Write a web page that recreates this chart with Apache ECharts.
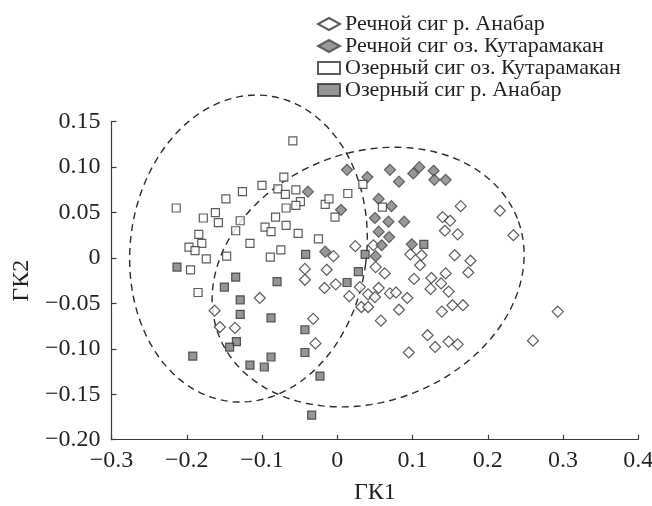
<!DOCTYPE html>
<html>
<head>
<meta charset="utf-8">
<script src="https://cdn.jsdelivr.net/npm/echarts@6/dist/echarts.min.js"></script>
<style>
  html, body { margin: 0; padding: 0; background: #fff; }
  #chart { width: 652px; height: 506px; }
</style>
</head>
<body>
<div id="chart"></div>
<script>
// ГК1 / ГК2 scores
const seriesNames = [
  "Речной сиг р. Анабар",
  "Речной сиг оз. Кутарамакан",
  "Озерный сиг оз. Кутарамакан",
  "Озерный сиг р. Анабар"
];

const riverAnabar = [
  [-0.103,-0.044],[-0.163,-0.058],[-0.156,-0.076],[-0.136,-0.077],[0.024,0.013],[0.048,0.014],
  [-0.005,0.002],[0.140,0.045],[0.150,0.041],[0.143,0.030],[0.160,0.026],[0.164,0.057],
  [0.216,0.052],[0.234,0.025],[0.156,0.003],[0.177,-0.003],[0.174,-0.016],[0.144,-0.017],
  [0.138,-0.028],[0.148,-0.037],[0.153,-0.052],[0.167,-0.052],[0.139,-0.059],[0.293,-0.059],
  [0.260,-0.091],[0.148,-0.092],[0.160,-0.095],[0.097,0.004],[0.112,0.003],[0.110,-0.008],
  [-0.043,-0.012],[-0.043,-0.024],[-0.014,-0.013],[-0.017,-0.033],[-0.002,-0.029],[0.016,-0.042],
  [0.030,-0.032],[0.041,-0.040],[0.032,-0.054],[0.041,-0.054],[0.050,-0.043],[0.055,-0.033],
  [0.063,-0.017],[0.051,-0.010],[0.070,-0.039],[0.078,-0.038],[0.093,-0.044],[0.082,-0.057],
  [0.058,-0.069],[0.102,-0.023],[0.125,-0.022],[0.124,-0.034],[-0.032,-0.067],[-0.029,-0.094],
  [0.120,-0.085],[0.130,-0.098],[0.095,-0.104]
];

const riverKutaramakan = [
  [0.013,0.097],[0.040,0.089],[0.070,0.097],[0.082,0.084],[0.101,0.093],[0.109,0.100],
  [0.128,0.096],[0.129,0.086],[0.144,0.086],[-0.039,0.073],[0.005,0.053],[0.055,0.065],
  [0.072,0.057],[0.050,0.044],[0.068,0.040],[0.089,0.040],[0.055,0.029],[0.069,0.023],
  [0.059,0.014],[0.099,0.015],[-0.016,0.007],[0.051,0.002]
];

const lakeKutaramakan = [
  [-0.214,0.055],[-0.178,0.044],[-0.162,0.050],[-0.158,0.039],[-0.148,0.065],[-0.126,0.073],
  [-0.100,0.080],[-0.079,0.076],[-0.129,0.041],[-0.135,0.030],[-0.184,0.026],[-0.180,0.016],
  [-0.197,0.012],[-0.189,0.008],[-0.116,0.016],[-0.096,0.034],[-0.088,0.029],[-0.082,0.045],
  [-0.174,-0.001],[-0.147,0.002],[-0.089,0.001],[-0.075,0.009],[-0.195,-0.013],[-0.185,-0.038],
  [-0.059,0.129],[-0.071,0.089],[0.034,0.081],[0.014,0.071],[-0.069,0.070],[-0.055,0.075],
  [-0.049,0.062],[-0.055,0.058],[-0.068,0.055],[-0.016,0.059],[-0.011,0.065],[-0.003,0.045],
  [-0.068,0.036],[-0.052,0.027],[-0.025,0.021],[0.060,0.056]
];

const lakeAnabar = [
  [-0.213,-0.010],[-0.135,-0.021],[-0.150,-0.032],[-0.129,-0.046],[-0.129,-0.062],[-0.088,-0.066],
  [-0.080,-0.026],[-0.134,-0.092],[-0.143,-0.098],[-0.192,-0.108],[-0.116,-0.118],[-0.088,-0.109],
  [-0.097,-0.120],[0.115,0.015],[-0.042,0.004],[0.037,0.004],[0.028,-0.015],[0.013,-0.027],
  [-0.043,-0.079],[-0.043,-0.104],[-0.023,-0.130],[-0.034,-0.173]
];

// dashed ellipses: centre x, centre y, half-width, half-height (data units), tilt in degrees
const ellipses = [
  [-0.118, 0.0104, 0.157, 0.1695, -7.4],
  [0.041, -0.021, 0.213, 0.137, 21.4]
];

const xTickLabels = ["−0.3", "−0.2", "−0.1", "0", "0.1", "0.2", "0.3", "0.4"];
const yTickLabels = ["−0.20", "−0.15", "−0.10", "−0.05", "0", "0.05", "0.10", "0.15"];

const xMin = -0.3, xMax = 0.4, xStep = 0.1;
const yMin = -0.2, yMax = 0.15, yStep = 0.05;

const font = "Liberation Serif";
const ink = "#231f20";

const chart = echarts.init(document.getElementById("chart"), null, { renderer: "canvas" });

function ellipseItem(params, api) {
  const c = api.coord([api.value(0), api.value(1)]);
  const r = api.size([api.value(2), api.value(3)]);
  const a = api.value(4) * Math.PI / 180;
  const pts = [];
  for (let i = 0; i <= 180; i++) {
    const t = i / 180 * Math.PI * 2;
    const ux = r[0] * Math.cos(t), uy = r[1] * Math.sin(t);
    pts.push([c[0] + ux * Math.cos(a) - uy * Math.sin(a),
              c[1] - (ux * Math.sin(a) + uy * Math.cos(a))]);
  }
  return {
    type: "polyline",
    shape: { points: pts },
    style: { fill: null, stroke: "#2b2b2b", lineWidth: 1.4, lineDash: [7, 5] }
  };
}

const markerStyles = [
  { symbol: "diamond", symbolSize: 11, itemStyle: { color: "#fff", borderColor: "#333", borderWidth: 1.2 } },
  { symbol: "diamond", symbolSize: 11, itemStyle: { color: "#808080", borderColor: "#444", borderWidth: 1.2 } },
  { symbol: "rect", symbolSize: 8, itemStyle: { color: "#fff", borderColor: "#333", borderWidth: 1.2 } },
  { symbol: "rect", symbolSize: 8, itemStyle: { color: "#7a7a7a", borderColor: "#333", borderWidth: 1.2 } }
];

const groups = [riverAnabar, riverKutaramakan, lakeKutaramakan, lakeAnabar];

let series = [{
  type: "custom",
  renderItem: ellipseItem,
  data: ellipses,
  encode: { x: 0, y: 1 },
  silent: true,
  z: 1
}];

series = series.concat(groups.map((g, idx) => ({
  name: seriesNames[idx],
  type: "scatter",
  data: g,
  z: 2,
  ...markerStyles[idx]
})));

const option = {
  animation: false,
  backgroundColor: "#fff",
  grid: { left: 111.5, right: 13.7, top: 121.7, bottom: 66.3, containLabel: false, outerBoundsMode: "none" },
  legend: {
    orient: "vertical",
    left: 317,
    top: 13,
    padding: 0,
    itemWidth: 22,
    itemHeight: 12,
    itemGap: 0,
    data: seriesNames,
    textStyle: { fontFamily: font, fontSize: 22, lineHeight: 22, color: ink }
  },
  xAxis: {
    type: "value",
    min: xMin, max: xMax, interval: xStep,
    name: "ГК1",
    nameLocation: "middle",
    nameGap: 41,
    nameTextStyle: { fontFamily: font, fontSize: 24, color: ink },
    splitLine: { show: false },
    axisLine: { onZero: false, lineStyle: { color: "#3a3a3a", width: 1.2 } },
    axisTick: { inside: true, length: 5, lineStyle: { color: "#3a3a3a", width: 1.2 } },
    axisLabel: {
      margin: 9, fontFamily: font, fontSize: 24, color: ink,
      formatter: v => xTickLabels[Math.round((v - xMin) / xStep)]
    }
  },
  yAxis: {
    type: "value",
    min: yMin, max: yMax, interval: yStep,
    name: "ГК2",
    nameLocation: "middle",
    nameRotate: 90,
    nameGap: 77,
    nameTextStyle: { fontFamily: font, fontSize: 24, color: ink },
    splitLine: { show: false },
    axisLine: { onZero: false, lineStyle: { color: "#3a3a3a", width: 1.2 } },
    axisTick: { inside: true, length: 5, lineStyle: { color: "#3a3a3a", width: 1.2 } },
    axisLabel: {
      margin: 11, fontFamily: font, fontSize: 24, color: ink,
      formatter: v => yTickLabels[Math.round((v - yMin) / yStep)]
    }
  },
  series
};

chart.setOption(option);
</script>
</body>
</html>
